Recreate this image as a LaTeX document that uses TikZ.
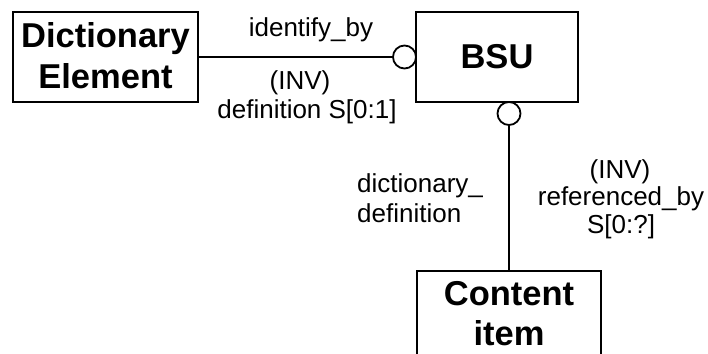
\documentclass[tikz,border=0pt]{standalone}
\usepackage{fontspec}
\setmainfont{Liberation Sans}
\tikzset{
  entity/.style={draw, line width=2pt, inner sep=0pt},
  ename/.style={font=\fontsize{34.5}{40}\selectfont\bfseries, anchor=base, inner sep=0pt},
  role/.style={font=\fontsize{26}{29}\selectfont, anchor=base, inner sep=0pt},
  link/.style={line width=2.6pt},
  ring/.style={circle, draw, line width=1.8pt, fill=white, minimum size=23pt, inner sep=0pt},
}
\begin{document}
\begin{tikzpicture}[x=1pt,y=-1pt]
\clip (0,0) rectangle (708,353);
\fill[white] (0,0) rectangle (708,353);

% entity boxes
\node[entity, minimum width=185pt, minimum height=90pt] (dict) at (105.5,57) {};
\node[entity, minimum width=162pt, minimum height=90pt] (bsu) at (497,57) {};
\node[entity, minimum width=184pt, minimum height=110pt] (content) at (509,326) {};

% entity names
\node[ename] (dictA) at (105.5,48) {Dictionary};
\node[ename] (dictB) at (105.5,88) {Element};
\node[ename] (bsuT) at (497,68) {BSU};
\node[ename] (contA) at (509,305) {Content};
\node[ename] (contB) at (509,345) {item};

% optionality rings
\node[ring] (ringL) at (404.5,57) {};
\node[ring] (ringB) at (509,113.5) {};

% relationships
\draw[link] (dict.east) -- (ringL.west);
\draw[link] (ringB.south) -- (content.north);

% role labels
\node[role] (idby) at (311,37) {identify\_by};
\node[role] (invL) at (300,89) {(INV)};
\node[role] (defL) at (307,118) {definition S[0:1]};
\node[role, anchor=base west] (ddA) at (357,192) {dictionary\_};
\node[role, anchor=base west] (ddB) at (357,222) {definition};
\node[role] (invR) at (620,178) {(INV)};
\node[role] (refR) at (621,205) {referenced\_by};
\node[role] (cardR) at (621,233) {S[0:?]};
\end{tikzpicture}
\end{document}
